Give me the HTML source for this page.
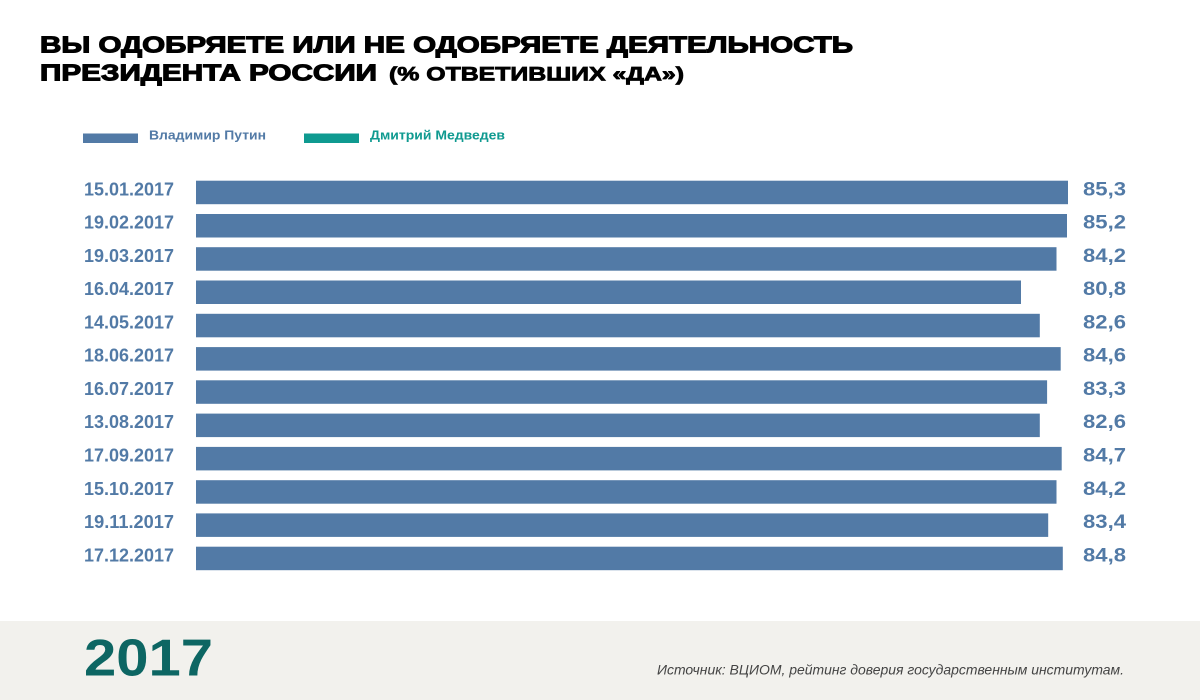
<!DOCTYPE html>
<html>
<head>
<meta charset="utf-8">
<style>
  html,body{margin:0;padding:0;background:#fff;}
  svg{display:block;}
  text{font-family:"Liberation Sans","Noto Sans CJK SC",sans-serif;}
</style>
</head>
<body>
<svg width="1200" height="700" viewBox="0 0 1200 700" xmlns="http://www.w3.org/2000/svg">
  <rect x="0" y="0" width="1200" height="700" fill="#ffffff"/>

  <!-- Title -->
  <text x="40" y="52.5" font-size="23" font-weight="bold" fill="#000" stroke="#000" stroke-width="1.1" textLength="813" lengthAdjust="spacingAndGlyphs">ВЫ ОДОБРЯЕТЕ ИЛИ НЕ ОДОБРЯЕТЕ ДЕЯТЕЛЬНОСТЬ</text>
  <text x="40" y="80.5" font-size="23" font-weight="bold" fill="#000" stroke="#000" stroke-width="1.1" textLength="337" lengthAdjust="spacingAndGlyphs">ПРЕЗИДЕНТА РОССИИ</text>
  <text x="389" y="80.5" font-size="19" font-weight="bold" fill="#000" stroke="#000" stroke-width="0.8" textLength="295" lengthAdjust="spacingAndGlyphs">(% ОТВЕТИВШИХ «ДА»)</text>

  <!-- Legend -->
  <rect x="83" y="133.5" width="55" height="9.5" fill="#527aa6"/>
  <text x="149" y="139.5" font-size="12.5" font-weight="bold" fill="#527aa6" textLength="117" lengthAdjust="spacingAndGlyphs">Владимир Путин</text>
  <rect x="304" y="133.5" width="55" height="9.5" fill="#0f9a90"/>
  <text x="370" y="139.5" font-size="12.5" font-weight="bold" fill="#0f9a90" textLength="135" lengthAdjust="spacingAndGlyphs">Дмитрий Медведев</text>

  <!-- Bars -->
  <g fill="#527aa6">
    <rect x="196" y="180.7" width="872" height="23.5"/>
    <rect x="196" y="214.0" width="871" height="23.5"/>
    <rect x="196" y="247.2" width="860.5" height="23.5"/>
    <rect x="196" y="280.5" width="825" height="23.5"/>
    <rect x="196" y="313.8" width="843.8" height="23.5"/>
    <rect x="196" y="347.1" width="864.7" height="23.5"/>
    <rect x="196" y="380.3" width="851.1" height="23.5"/>
    <rect x="196" y="413.6" width="843.8" height="23.5"/>
    <rect x="196" y="446.9" width="865.7" height="23.5"/>
    <rect x="196" y="480.2" width="860.5" height="23.5"/>
    <rect x="196" y="513.4" width="852.2" height="23.5"/>
    <rect x="196" y="546.7" width="866.8" height="23.5"/>
  </g>

  <!-- Date labels -->
  <g font-size="18.5" font-weight="bold" fill="#527aa6" text-anchor="start">
    <text x="84" y="195.3" textLength="90" lengthAdjust="spacingAndGlyphs">15.01.2017</text>
    <text x="84" y="228.6" textLength="90" lengthAdjust="spacingAndGlyphs">19.02.2017</text>
    <text x="84" y="261.8" textLength="90" lengthAdjust="spacingAndGlyphs">19.03.2017</text>
    <text x="84" y="295.1" textLength="90" lengthAdjust="spacingAndGlyphs">16.04.2017</text>
    <text x="84" y="328.4" textLength="90" lengthAdjust="spacingAndGlyphs">14.05.2017</text>
    <text x="84" y="361.7" textLength="90" lengthAdjust="spacingAndGlyphs">18.06.2017</text>
    <text x="84" y="394.9" textLength="90" lengthAdjust="spacingAndGlyphs">16.07.2017</text>
    <text x="84" y="428.2" textLength="90" lengthAdjust="spacingAndGlyphs">13.08.2017</text>
    <text x="84" y="461.5" textLength="90" lengthAdjust="spacingAndGlyphs">17.09.2017</text>
    <text x="84" y="494.8" textLength="90" lengthAdjust="spacingAndGlyphs">15.10.2017</text>
    <text x="84" y="528.0" textLength="90" lengthAdjust="spacingAndGlyphs">19.11.2017</text>
    <text x="84" y="561.3" textLength="90" lengthAdjust="spacingAndGlyphs">17.12.2017</text>
  </g>

  <!-- Values -->
  <g font-size="19.5" font-weight="bold" fill="#527aa6">
    <text x="1083" y="195.3" textLength="43" lengthAdjust="spacingAndGlyphs">85,3</text>
    <text x="1083" y="228.6" textLength="43" lengthAdjust="spacingAndGlyphs">85,2</text>
    <text x="1083" y="261.8" textLength="43" lengthAdjust="spacingAndGlyphs">84,2</text>
    <text x="1083" y="295.1" textLength="43" lengthAdjust="spacingAndGlyphs">80,8</text>
    <text x="1083" y="328.4" textLength="43" lengthAdjust="spacingAndGlyphs">82,6</text>
    <text x="1083" y="361.7" textLength="43" lengthAdjust="spacingAndGlyphs">84,6</text>
    <text x="1083" y="394.9" textLength="43" lengthAdjust="spacingAndGlyphs">83,3</text>
    <text x="1083" y="428.2" textLength="43" lengthAdjust="spacingAndGlyphs">82,6</text>
    <text x="1083" y="461.5" textLength="43" lengthAdjust="spacingAndGlyphs">84,7</text>
    <text x="1083" y="494.8" textLength="43" lengthAdjust="spacingAndGlyphs">84,2</text>
    <text x="1083" y="528.0" textLength="43" lengthAdjust="spacingAndGlyphs">83,4</text>
    <text x="1083" y="561.3" textLength="43" lengthAdjust="spacingAndGlyphs">84,8</text>
  </g>

  <!-- Footer -->
  <rect x="0" y="621" width="1200" height="79" fill="#f2f1ed"/>
  <text x="84" y="675.5" font-size="52" font-weight="bold" fill="#0d6663" textLength="129" lengthAdjust="spacingAndGlyphs">2017</text>
  <text x="657" y="674.5" font-size="14" font-style="italic" fill="#444" textLength="467" lengthAdjust="spacingAndGlyphs">Источник: ВЦИОМ, рейтинг доверия государственным институтам.</text>
</svg>
</body>
</html>
